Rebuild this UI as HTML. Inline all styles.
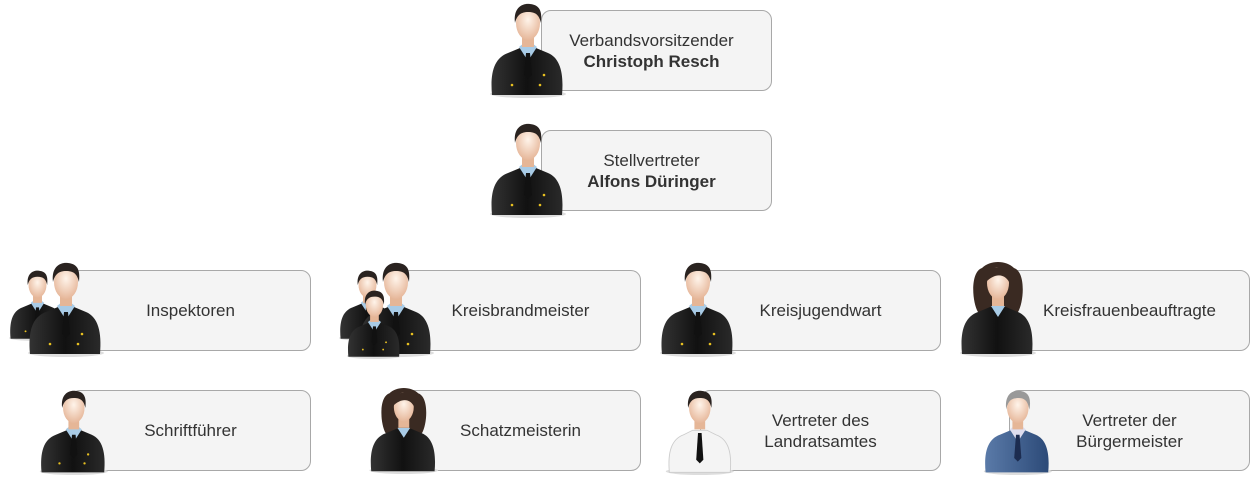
<!DOCTYPE html>
<html><head><meta charset="utf-8"><style>
body{margin:0;width:1250px;height:480px;background:#fff;position:relative;overflow:hidden;font-family:"Liberation Sans",sans-serif;}
.b{position:absolute;box-sizing:border-box;background:#f4f4f4;border:1px solid #a8a8a8;border-radius:10px;display:flex;flex-direction:column;align-items:center;justify-content:center;font-size:17px;color:#333;line-height:21px;text-align:center}
.b b{font-weight:bold}
.t{padding-right:10px}
svg.a{position:absolute;overflow:visible}
</style></head><body>
<svg width="0" height="0" style="position:absolute">
<defs>
<radialGradient id="sk" cx="50%" cy="40%" r="60%"><stop offset="0" stop-color="#fff4ea"/><stop offset="1" stop-color="#e6b79a"/></radialGradient>
<linearGradient id="su" x1="0" x2="1"><stop offset="0" stop-color="#333"/><stop offset="0.5" stop-color="#111"/><stop offset="1" stop-color="#2a2a2a"/></linearGradient>
<linearGradient id="bl" x1="0" x2="1"><stop offset="0" stop-color="#5a7aa8"/><stop offset="1" stop-color="#2c4a78"/></linearGradient>
<symbol id="m" viewBox="0 0 80 95">
<ellipse cx="42" cy="91" rx="38" ry="4" fill="#ddd"/>
<path d="M6 92 C4 70 8 55 22 50 L34 45 L50 45 L62 50 C74 55 78 70 76 92 Z" fill="url(#su)"/>
<path d="M33 44 L42 58 L51 44 L46 40 L38 40 Z" fill="#a8cbe6"/>
<path d="M40 50 L44 50 L46 72 L42 76 L38 72 Z" fill="#111"/>
<rect x="36" y="28" width="12" height="16" fill="#e5b697"/>
<ellipse cx="42" cy="20" rx="12" ry="17" fill="url(#sk)"/>
<path d="M29 20 C27 4 37 0 44 1 C55 2 56 10 55 20 C53 12 50 9 42 9 C35 9 31 12 29 20Z" fill="#2a2320"/>
<circle cx="26" cy="82" r="1.3" fill="#e8c020"/><circle cx="54" cy="82" r="1.3" fill="#e8c020"/><circle cx="58" cy="72" r="1.3" fill="#e8c020"/>
</symbol>
<symbol id="w" viewBox="0 0 80 95">
<ellipse cx="42" cy="91" rx="38" ry="4" fill="#ddd"/>
<path d="M26 6 C14 10 16 40 22 50 L62 50 C68 40 70 10 58 6 C50 -2 34 -2 26 6Z" fill="#3a2a22"/>
<path d="M6 92 C4 70 8 55 22 50 L34 45 L50 45 L62 50 C74 55 78 70 76 92 Z" fill="url(#su)"/>
<path d="M35 44 L42 55 L49 44 Z" fill="#a8cbe6"/>
<rect x="36" y="28" width="12" height="16" fill="#e5b697"/>
<ellipse cx="42" cy="21" rx="11" ry="16" fill="url(#sk)"/>
<path d="M30 20 C30 8 36 5 44 5 C52 5 56 10 54 22 C50 12 40 10 30 20Z" fill="#3a2a22"/>
</symbol>
<symbol id="s" viewBox="0 0 80 95">
<ellipse cx="42" cy="91" rx="38" ry="4" fill="#ddd"/>
<path d="M8 92 C6 70 10 55 24 50 L34 45 L50 45 L60 50 C74 55 78 70 76 92 Z" fill="#f4f4f4" stroke="#ccc"/>
<path d="M40 48 L44 48 L46 78 L42 82 L38 78 Z" fill="#111"/>
<rect x="36" y="28" width="12" height="16" fill="#e5b697"/>
<ellipse cx="42" cy="20" rx="12" ry="17" fill="url(#sk)"/>
<path d="M29 20 C27 4 37 0 44 1 C55 2 56 10 55 20 C53 12 50 9 42 9 C35 9 31 12 29 20Z" fill="#2a2320"/>
</symbol>
<symbol id="g" viewBox="0 0 80 95">
<ellipse cx="42" cy="91" rx="38" ry="4" fill="#ddd"/>
<path d="M6 92 C4 70 8 55 22 50 L34 45 L50 45 L62 50 C74 55 78 70 76 92 Z" fill="url(#bl)"/>
<path d="M33 44 L42 58 L51 44 L46 40 L38 40 Z" fill="#dde"/>
<path d="M40 50 L44 50 L46 76 L42 80 L38 76 Z" fill="#1c2c50"/>
<rect x="36" y="28" width="12" height="16" fill="#e5b697"/>
<ellipse cx="42" cy="20" rx="12" ry="17" fill="url(#sk)"/>
<path d="M29 22 C27 4 37 0 44 1 C55 2 57 10 55 22 C53 12 50 9 42 9 C35 9 31 12 29 22Z" fill="#999"/>
</symbol>
</defs></svg>

<div class="b t" style="left:541px;top:10px;width:231px;height:81px">Verbandsvorsitzender<b>Christoph Resch</b></div>
<svg class="a" style="left:486px;top:3px" width="80" height="95"><use href="#m"/></svg>
<div class="b t" style="left:541px;top:130px;width:231px;height:81px">Stellvertreter<b>Alfons Düringer</b></div>
<svg class="a" style="left:486px;top:123px" width="80" height="95"><use href="#m"/></svg>

<div class="b" style="left:70px;top:270px;width:241px;height:81px">Inspektoren</div>
<svg class="a" style="left:6px;top:270px" width="60" height="71"><use href="#m"/></svg>
<svg class="a" style="left:24px;top:262px" width="80" height="95"><use href="#m"/></svg>

<div class="b" style="left:400px;top:270px;width:241px;height:81px">Kreisbrandmeister</div>
<svg class="a" style="left:336px;top:270px" width="60" height="71"><use href="#m"/></svg>
<svg class="a" style="left:354px;top:262px" width="80" height="95"><use href="#m"/></svg>
<svg class="a" style="left:344px;top:290px" width="58" height="69"><use href="#m"/></svg>

<div class="b" style="left:700px;top:270px;width:241px;height:81px">Kreisjugendwart</div>
<svg class="a" style="left:656px;top:262px" width="80" height="95"><use href="#m"/></svg>

<div class="b" style="left:1009px;top:270px;width:241px;height:81px">Kreisfrauenbeauftragte</div>
<svg class="a" style="left:956px;top:262px" width="80" height="95"><use href="#w"/></svg>

<div class="b" style="left:70px;top:390px;width:241px;height:81px">Schriftführer</div>
<svg class="a" style="left:34px;top:390px" width="76" height="85"><use href="#m"/></svg>

<div class="b" style="left:400px;top:390px;width:241px;height:81px">Schatzmeisterin</div>
<svg class="a" style="left:364px;top:388px" width="76" height="86"><use href="#w"/></svg>

<div class="b" style="left:700px;top:390px;width:241px;height:81px">Vertreter des<br>Landratsamtes</div>
<svg class="a" style="left:660px;top:390px" width="76" height="85"><use href="#s"/></svg>

<div class="b" style="left:1009px;top:390px;width:241px;height:81px">Vertreter der<br>Bürgermeister</div>
<svg class="a" style="left:978px;top:390px" width="76" height="85"><use href="#g"/></svg>
</body></html>
